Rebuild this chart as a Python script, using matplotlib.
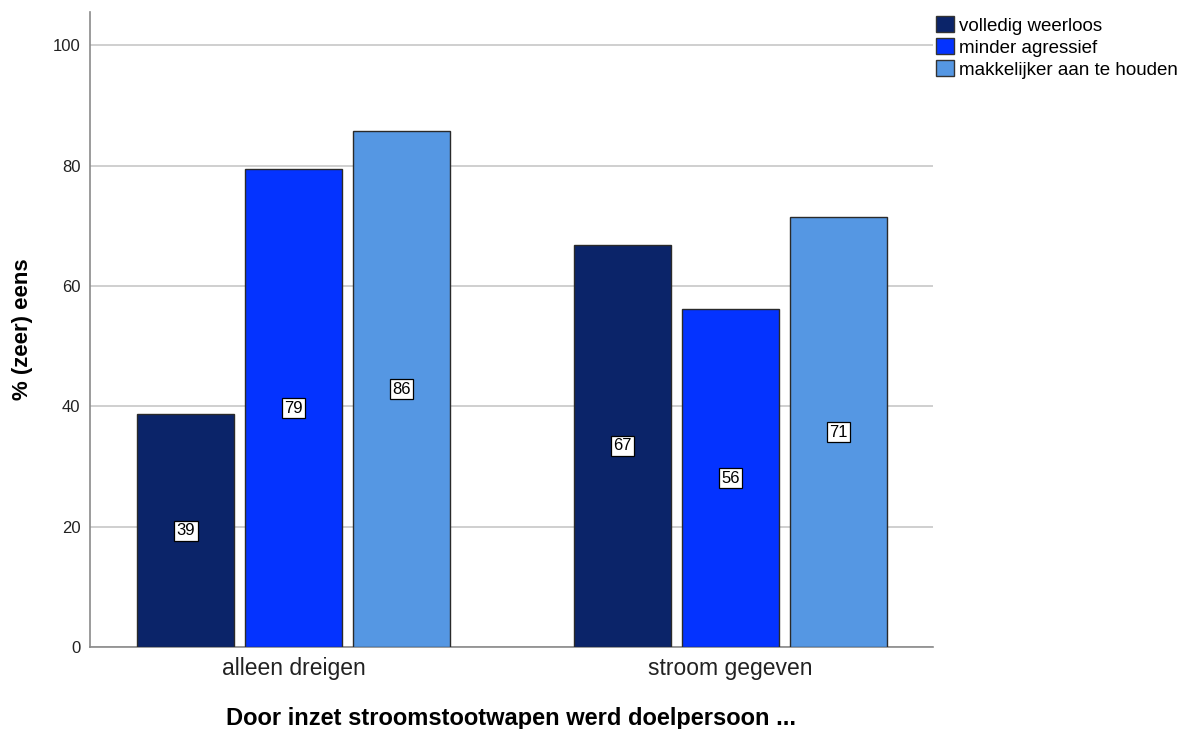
import matplotlib
matplotlib.use("Agg")
import numpy as np
from matplotlib import pyplot as plt

plt.rcParams['font.family'] = ['Liberation Sans', 'DejaVu Sans']

## data
groups = ['alleen dreigen', 'stroom gegeven']
series = ['volledig weerloos', 'minder agressief', 'makkelijker aan te houden']
volledig = [38.7, 66.8]
minder = [79.4, 56.1]
makkelijker = [85.7, 71.4]
colors = ['#0b2469', '#0433ff', '#5597e3']

values = [volledig, minder, makkelijker]

fig = plt.figure(figsize=(11.89, 7.29), dpi=100)
ax = fig.add_axes([0.0757, 0.1125, 0.709, 0.871])

x = np.arange(len(groups))
width = 0.222
step = 0.247
for i, (vals, name, col) in enumerate(zip(values, series, colors)):
    pos = x + (i - 1) * step
    bars = ax.bar(pos, vals, width, color=col, edgecolor='#2a2a2a', linewidth=1, label=name, zorder=3)
    for b, v in zip(bars, vals):
        ax.text(b.get_x() + b.get_width() / 2, v / 2, '%d' % round(v), ha='center', va='center',
                fontsize=12, zorder=4,
                bbox=dict(boxstyle='square,pad=0.15', fc='white', ec='black', lw=0.9))

ax.set_xlim(-0.466, 1.463)
ax.set_ylim(0, 105.5)
ax.set_yticks([0, 20, 40, 60, 80, 100])
ax.set_xticks(x)
ax.set_xticklabels(groups, fontsize=16.5, color='#222222')
ax.tick_params(axis='y', labelsize=12, length=0, pad=7, labelcolor='#222222')
ax.tick_params(axis='x', length=0, pad=7)
ax.yaxis.grid(True, color='#cccccc', linewidth=1.3, zorder=0)
ax.set_axisbelow(True)
for s in ['top', 'right']:
    ax.spines[s].set_visible(False)
for s in ['left', 'bottom']:
    ax.spines[s].set_color('#8a8a8a')
    ax.spines[s].set_linewidth(1.2)

ax.set_ylabel('% (zeer) eens', fontsize=16, fontweight='bold')
ax.yaxis.set_label_coords(-0.0676, 0.5)
fig.text(511 / 1189, 3.5 / 729, 'Door inzet stroomstootwapen werd doelpersoon ...',
         fontsize=17, fontweight='bold', ha='center', va='baseline')

leg = ax.legend(loc='upper left', bbox_to_anchor=(1.003, 0.993), frameon=False, fontsize=13.5,
                handlelength=1.0, handleheight=0.9, handletextpad=0.27, labelspacing=0.2,
                borderaxespad=0, borderpad=0)
for h in leg.legend_handles:
    h.set_edgecolor('#333333')

fig.savefig('out.png', dpi=100)
